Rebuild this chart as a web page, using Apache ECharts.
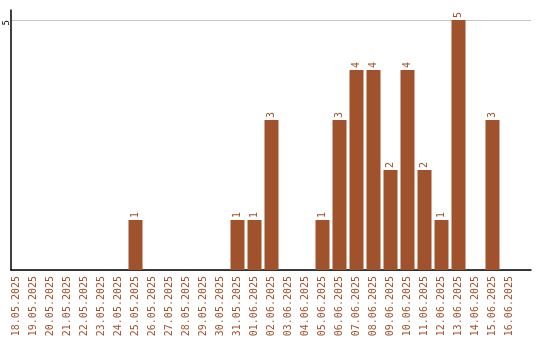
<!DOCTYPE html>
<html>
<head>
<meta charset="utf-8">
<script src="https://cdn.jsdelivr.net/npm/echarts@6/dist/echarts.min.js"></script>
<style>
  html, body { margin: 0; padding: 0; background: #fff; }
  #chart { width: 540px; height: 340px; }
</style>
</head>
<body>
<div id="chart"></div>
<script>
const dates = [
  '18.05.2025', '19.05.2025', '20.05.2025', '21.05.2025', '22.05.2025',
  '23.05.2025', '24.05.2025', '25.05.2025', '26.05.2025', '27.05.2025',
  '28.05.2025', '29.05.2025', '30.05.2025', '31.05.2025', '01.06.2025',
  '02.06.2025', '03.06.2025', '04.06.2025', '05.06.2025', '06.06.2025',
  '07.06.2025', '08.06.2025', '09.06.2025', '10.06.2025', '11.06.2025',
  '12.06.2025', '13.06.2025', '14.06.2025', '15.06.2025', '16.06.2025'
]
const counts = [
  0, 0, 0, 0, 0, 0, 0, 1, 0, 0,
  0, 0, 0, 1, 1, 3, 0, 0, 1, 3,
  4, 4, 2, 4, 2, 1, 5, 0, 3, 0
]
const yTicks = [5]

const brown = '#a0522d'
const font = 'DejaVu Sans Mono'
const yMax = 5.2

const chart = echarts.init(document.getElementById('chart'))

chart.setOption({
  animation: false,
  grid: [
    // frame: axis lines + grid line
    { left: 11, right: 9, top: 10, bottom: 70 },
    // bars
    { left: 8, width: 510, top: 10, bottom: 70 }
  ],
  xAxis: [
    {
      gridIndex: 0,
      type: 'category',
      data: dates,
      axisLine: { lineStyle: { color: '#000', width: 1.5 } },
      axisTick: { show: false },
      axisLabel: { show: false }
    },
    {
      gridIndex: 1,
      type: 'category',
      data: dates,
      axisLine: { show: false },
      axisTick: { show: false },
      axisLabel: {
        rotate: 90,
        interval: 0,
        margin: 6,
        color: brown,
        fontFamily: font,
        fontSize: 10
      }
    }
  ],
  yAxis: [
    {
      gridIndex: 0,
      type: 'value',
      min: 0,
      max: yMax,
      interval: 5,
      axisLine: { show: true, lineStyle: { color: '#000', width: 1.5 } },
      axisTick: { show: false },
      axisLabel: {
        rotate: 90,
        margin: 4,
        align: 'right',
        verticalAlign: 'middle',
        color: '#000',
        fontFamily: font,
        fontSize: 9,
        formatter: v => (yTicks.includes(v) ? String(v) : '')
      },
      splitLine: {
        showMaxLine: false,
        lineStyle: { color: '#c8c8c8', width: 1 }
      }
    },
    {
      gridIndex: 1,
      type: 'value',
      min: 0,
      max: yMax,
      show: false
    }
  ],
  series: [
    {
      type: 'bar',
      xAxisIndex: 1,
      yAxisIndex: 1,
      data: counts.map(v => (v === 0 ? null : v)),
      barWidth: 14,
      itemStyle: { color: brown },
      label: {
        show: true,
        position: 'top',
        distance: 2,
        rotate: 90,
        align: 'left',
        verticalAlign: 'middle',
        color: brown,
        fontFamily: font,
        fontSize: 10
      }
    }
  ]
})
</script>
</body>
</html>
